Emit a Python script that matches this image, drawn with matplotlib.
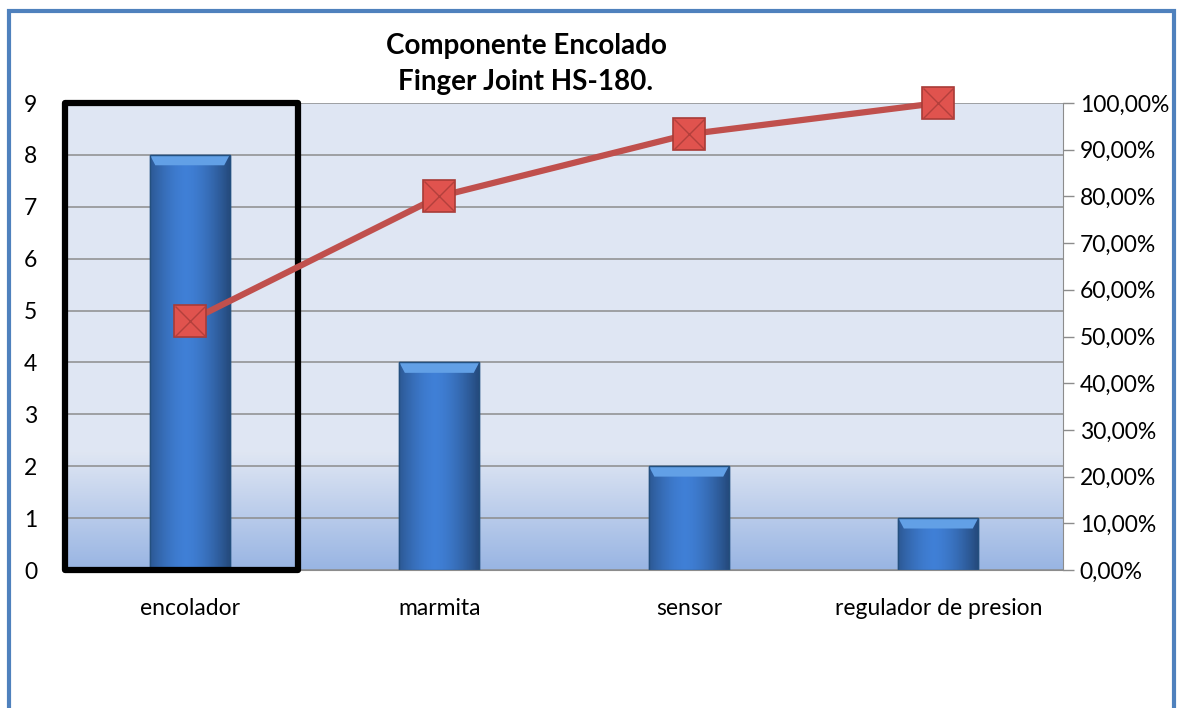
import matplotlib
matplotlib.use("Agg")
import matplotlib.pyplot as plt
from matplotlib.patches import Rectangle, Polygon
from matplotlib.ticker import FuncFormatter
import numpy as np

# Datos del diagrama de Pareto
componentes = ['encolador', 'marmita', 'sensor', 'regulador de presion']
fallas = [8, 4, 2, 1]
titulo = 'Componente Encolado\nFinger Joint HS-180.'

acumulado = np.cumsum(fallas) / np.sum(fallas)

plt.rcParams['font.family'] = ['Lato', 'DejaVu Sans']

fig = plt.figure(figsize=(11.8, 7.08), dpi=100)
ax = fig.add_axes([0.0551, 0.1949, 0.8458, 0.6596])
ax2 = ax.twinx()

x = np.arange(len(componentes))
ax.set_xlim(-0.5, len(componentes) - 0.5)
ax.set_ylim(0, 9)

# fondo del área con degradado en la parte baja
grad = np.ones((200, 1, 3))
top = np.array([0.875, 0.902, 0.953])
bottom = np.array([0.60, 0.71, 0.89])
for i in range(200):
    t = i / 199
    f = 1 - t / 0.25 if t < 0.25 else 0
    grad[i, 0] = top * (1 - f) + bottom * f
ax.imshow(grad, extent=(-0.5, len(componentes) - 0.5, 0, 9), aspect='auto',
          origin='lower', zorder=0)

ax.yaxis.grid(True, color='#8c8c8c', linewidth=1.1, zorder=1)
ax.set_axisbelow(True)

# barras con sombreado horizontal y bisel superior
ancho = 0.32
sombra = np.linspace(0, 1, 60)
perfil = 1 - 0.45 * np.abs(sombra - 0.45) ** 1.6 * 2.4
base = np.array([0.25, 0.50, 0.84])
tira = np.clip(base[None, :] * perfil[:, None], 0, 1)[None, :, :]
bisel = 0.022
for xi, v in zip(x, fallas):
    barra = ax.bar(xi, v, width=ancho, color='#3c7bcf', edgecolor='#2a5890',
                   linewidth=1.0, zorder=2)[0]
    img = ax.imshow(tira, extent=(xi - ancho / 2, xi + ancho / 2, 0, v),
                    aspect='auto', zorder=2.1)
    img.set_clip_path(barra)
    xl, xr = xi - ancho / 2, xi + ancho / 2
    ax.add_patch(Polygon([(xl, v), (xr, v), (xr - bisel, v - 0.2),
                          (xl + bisel, v - 0.2)], closed=True,
                         facecolor='#62a0e6', edgecolor='none', zorder=2.2))
    ax.add_patch(Rectangle((xl, 0), ancho, v, fill=False,
                           edgecolor='#24507f', linewidth=1.0, zorder=2.3))

ax.set_xticks(x)
ax.set_xticklabels(componentes, fontsize=16.5)
ax.set_yticks(range(0, 10))
ax.tick_params(axis='y', length=0, labelsize=16.5, pad=20)
ax.tick_params(axis='x', length=0, pad=20)

for s in ['left', 'top', 'right']:
    ax.spines[s].set_visible(False)
ax.spines['bottom'].set_color('#8c8c8c')

# línea del porcentaje acumulado
ax2.set_ylim(0, 1)
ax2.plot(x, acumulado, color='#c0504d', linewidth=4.5, zorder=5,
         clip_on=False)
ax2.plot(x, acumulado, linestyle='none', marker='s', markersize=23,
         markerfacecolor='#e0534e', markeredgecolor='#a83b37',
         markeredgewidth=1.2, zorder=6, clip_on=False)
ax2.plot(x, acumulado, linestyle='none', marker='x', markersize=21,
         markeredgecolor='#b3403c', markeredgewidth=1.0, zorder=7,
         clip_on=False)
ax2.set_yticks(np.arange(0, 1.01, 0.1))
ax2.yaxis.set_major_formatter(
    FuncFormatter(lambda v, p: f'{v * 100:.2f}%'.replace('.', ',')))
ax2.tick_params(axis='y', length=8, width=1, color='#8c8c8c',
                labelsize=16.5, pad=4)
for s in ['left', 'top', 'bottom']:
    ax2.spines[s].set_visible(False)
ax2.spines['right'].set_color('#8c8c8c')

# recuadro negro sobre el primer componente
ax.add_patch(Rectangle((-0.5, 0), 0.934, 9, fill=False, edgecolor='black',
                       linewidth=4.5, zorder=8, clip_on=False,
                       joinstyle='round'))

fig.text(526 / 1180, 1 - 64 / 708, titulo, ha='center', va='center',
         fontsize=20, fontweight='bold', linespacing=1.45)

# borde azul del gráfico
fig.add_artist(Rectangle((9 / 1180, -0.05), (1174 - 9) / 1180,
                         1 - 11 / 708 + 0.05, transform=fig.transFigure,
                         fill=False, edgecolor='#4f81bd', linewidth=3))

fig.savefig('out.png', dpi=100)
